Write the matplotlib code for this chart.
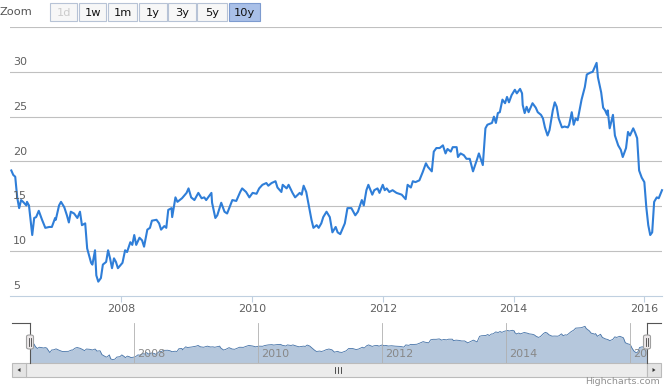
import matplotlib
matplotlib.use("Agg")
import matplotlib.pyplot as plt
from matplotlib.patches import Rectangle, FancyBboxPatch, Polygon
from matplotlib.lines import Line2D
from matplotlib.transforms import blended_transform_factory

# decimal year / price
years = [2006.32, 2006.35, 2006.38, 2006.41, 2006.44, 2006.47, 2006.50, 2006.55, 2006.56, 2006.59,
         2006.64, 2006.67, 2006.70, 2006.74, 2006.79, 2006.84, 2006.90, 2006.94, 2006.99, 2007.00,
         2007.05, 2007.08, 2007.13, 2007.17, 2007.20, 2007.23, 2007.28, 2007.33, 2007.37, 2007.40,
         2007.45, 2007.48, 2007.54, 2007.56, 2007.60, 2007.62, 2007.65, 2007.69, 2007.72, 2007.77,
         2007.80, 2007.83, 2007.86, 2007.89, 2007.92, 2007.95, 2008.02, 2008.06, 2008.09, 2008.14,
         2008.17, 2008.20, 2008.23, 2008.28, 2008.32, 2008.35, 2008.40, 2008.44, 2008.47, 2008.54,
         2008.58, 2008.61, 2008.66, 2008.69, 2008.72, 2008.77, 2008.78, 2008.83, 2008.86, 2008.93,
         2009.00, 2009.03, 2009.07, 2009.12, 2009.18, 2009.23, 2009.27, 2009.30, 2009.38, 2009.39,
         2009.44, 2009.47, 2009.53, 2009.58, 2009.62, 2009.70, 2009.76, 2009.82, 2009.85, 2009.91,
         2009.96, 2010.01, 2010.07, 2010.11, 2010.16, 2010.22, 2010.25, 2010.30, 2010.36, 2010.39,
         2010.45, 2010.47, 2010.53, 2010.56, 2010.62, 2010.66, 2010.73, 2010.76, 2010.79, 2010.83,
         2010.91, 2010.94, 2010.99, 2011.02, 2011.06, 2011.09, 2011.14, 2011.19, 2011.23, 2011.28,
         2011.31, 2011.35, 2011.42, 2011.46, 2011.52, 2011.58, 2011.62, 2011.68, 2011.71, 2011.75,
         2011.78, 2011.84, 2011.87, 2011.92, 2011.95, 2012.00, 2012.03, 2012.06, 2012.10, 2012.15,
         2012.21, 2012.29, 2012.35, 2012.38, 2012.43, 2012.46, 2012.50, 2012.56, 2012.61, 2012.66,
         2012.69, 2012.75, 2012.78, 2012.82, 2012.87, 2012.92, 2012.96, 2012.99, 2013.04, 2013.07,
         2013.13, 2013.15, 2013.19, 2013.24, 2013.28, 2013.33, 2013.38, 2013.44, 2013.47, 2013.53,
         2013.57, 2013.60, 2013.67, 2013.70, 2013.73, 2013.76, 2013.79, 2013.83, 2013.87, 2013.90,
         2013.93, 2013.97, 2014.02, 2014.05, 2014.10, 2014.13, 2014.14, 2014.17, 2014.20, 2014.23,
         2014.29, 2014.34, 2014.37, 2014.42, 2014.45, 2014.48, 2014.52, 2014.55, 2014.60, 2014.63,
         2014.66, 2014.69, 2014.74, 2014.78, 2014.83, 2014.85, 2014.89, 2014.92, 2014.95, 2014.98,
         2015.04, 2015.09, 2015.12, 2015.17, 2015.21, 2015.24, 2015.27, 2015.29, 2015.34, 2015.37,
         2015.40, 2015.43, 2015.44, 2015.47, 2015.52, 2015.55, 2015.60, 2015.64, 2015.67, 2015.72,
         2015.75, 2015.78, 2015.83, 2015.86, 2015.89, 2015.92, 2015.96, 2016.00, 2016.03, 2016.06,
         2016.09, 2016.12, 2016.15, 2016.19, 2016.22, 2016.27]

prices = [19.0, 18.5, 18.3, 16.0, 14.8, 15.7, 15.5, 15.1, 15.5, 15.1,
          11.8, 13.7, 13.8, 14.5, 13.5, 12.6, 12.7, 12.7, 13.7, 13.5,
          15.1, 15.5, 14.9, 14.0, 13.2, 14.4, 14.2, 13.7, 14.4, 12.9,
          13.1, 10.3, 8.7, 8.5, 10.1, 7.3, 6.6, 7.0, 8.5, 8.8,
          10.1, 9.2, 8.1, 9.2, 8.8, 8.1, 8.7, 10.1, 9.9, 11.0,
          10.7, 11.8, 10.7, 11.5, 11.2, 10.5, 12.4, 12.6, 13.4, 13.5,
          13.1, 12.4, 12.8, 12.6, 14.6, 14.8, 13.8, 16.0, 15.5, 15.9,
          16.5, 17.0, 16.0, 15.7, 16.5, 15.9, 16.0, 15.7, 16.5, 15.4,
          13.7, 14.0, 15.4, 14.4, 14.2, 15.7, 15.6, 16.6, 17.0, 16.6,
          16.0, 16.5, 16.4, 17.0, 17.4, 17.6, 17.3, 17.6, 17.8, 17.1,
          16.6, 17.4, 17.0, 17.4, 16.5, 16.0, 16.5, 16.3, 17.3, 16.6,
          13.5, 12.6, 12.9, 12.6, 13.1, 13.8, 14.4, 13.8, 12.1, 12.7,
          12.1, 11.9, 13.1, 14.8, 14.8, 14.0, 14.4, 15.7, 15.1, 16.8,
          17.4, 16.3, 16.8, 17.0, 16.5, 17.4, 16.8, 17.0, 16.6, 16.8,
          16.5, 16.3, 15.8, 17.4, 17.1, 17.8, 17.7, 17.9, 18.8, 19.8,
          19.4, 18.9, 21.1, 21.5, 21.5, 21.8, 20.9, 21.4, 21.1, 21.6,
          21.6, 20.5, 20.9, 20.7, 20.3, 20.3, 18.9, 20.2, 20.9, 19.6,
          23.7, 24.1, 24.3, 25.0, 24.3, 25.4, 25.5, 26.9, 26.5, 27.2,
          26.6, 27.4, 28.0, 27.6, 28.1, 27.6, 26.3, 25.4, 26.1, 25.5,
          26.5, 26.0, 25.5, 25.2, 24.8, 23.8, 22.9, 23.5, 25.7, 26.6,
          26.1, 24.8, 23.8, 23.9, 23.8, 24.1, 25.5, 24.1, 24.8, 24.6,
          26.9, 28.3, 29.7, 29.9, 30.0, 30.5, 31.0, 29.4, 27.7, 26.0,
          25.7, 25.2, 25.7, 23.7, 25.2, 22.9, 21.8, 21.3, 20.5, 21.5,
          23.3, 22.9, 23.7, 23.2, 22.6, 19.0, 18.2, 17.7, 14.9, 12.9,
          11.8, 12.1, 15.5, 16.0, 15.9, 16.8]

y_ticks = [5, 10, 15, 20, 25, 30, 35]
y_labels = ["5", "10", "15", "20", "25", "30"]
x_ticks = [2008, 2010, 2012, 2014, 2016]
zoom_buttons = ["1d", "1w", "1m", "1y", "3y", "5y", "10y"]

W, H = 664, 389
fig = plt.figure(figsize=(W / 100, H / 100), dpi=100)
plt.rcParams['font.family'] = ['DejaVu Sans']


def fx(px):
    return px / W


def fy(py):
    return 1 - py / H


def box(x0, y0, x1, y1):
    return [fx(x0), fy(y1), fx(x1) - fx(x0), fy(y0) - fy(y1)]


# ---- main chart
ax = fig.add_axes(box(10, 27, 662, 296))
ax.plot(years, prices, color='#2f7ed8', lw=1.5, solid_joinstyle='round', zorder=3, clip_on=False)
ax.set_xlim(years[0] - 0.02, years[-1])
ax.set_ylim(5, 35)
for v in y_ticks[1:]:
    ax.axhline(v, color='#c0c0c0', lw=0.8, zorder=1)
for s in ['top', 'left', 'right']:
    ax.spines[s].set_visible(False)
ax.spines['bottom'].set_color('#c0d0e0')
ax.spines['bottom'].set_linewidth(0.8)
ax.set_yticks([])
ax.set_xticks(x_ticks)
ax.set_xticklabels([str(t) for t in x_ticks])
ax.tick_params(axis='x', colors='#c0d0e0', length=4, width=0.8, pad=1.5, labelsize=8, labelcolor='#606060')
ytr = blended_transform_factory(ax.transAxes, ax.transData)
for v, lab in zip(y_ticks, y_labels):
    ax.text(3 / 652, v + 0.55, lab, transform=ytr, fontsize=8, color='#606060', ha='left', va='bottom')

# ---- zoom buttons
fig.text(fx(0), fy(12), "Zoom", fontsize=8.2, color='#555555', ha='left', va='center')
btn_x = [(50, 77), (79, 106), (108, 137), (139, 167), (168, 196), (197, 227), (229, 260)]
for (x0, x1), lab in zip(btn_x, zoom_buttons):
    sel = lab == "10y"
    fc = '#a9c0e8' if sel else '#f7f7f7'
    ec = '#7d9bcf' if sel else '#b7c3d6'
    fig.patches.append(Rectangle((fx(x0), fy(21)), fx(x1) - fx(x0), fy(3) - fy(21),
                                 transform=fig.transFigure, fc=fc, ec=ec, lw=0.8))
    tc = '#cccccc' if lab == "1d" else '#111111'
    fig.text(fx((x0 + x1) / 2), fy(12.5), lab, fontsize=8.2, color=tc, ha='center', va='center')

# ---- navigator
nav = fig.add_axes(box(30, 323, 647, 363))
span = max(prices) - min(prices)
nav_min = min(prices) - 0.1 * span
nav.fill_between(years, prices, nav_min, color='#b5c7dc', lw=0, zorder=2)
nav.plot(years, prices, color='#4572a7', lw=0.6, zorder=3)
nav.set_xlim(years[0], years[-1])
nav.set_ylim(nav_min, max(prices) + 0.1 * span)
nav.axis('off')
for t in x_ticks:
    nav.axvline(t, color='#b0b0b0', lw=0.6, zorder=4)
    nav.text(t + 0.05, 0.22, str(t), transform=blended_transform_factory(nav.transData, nav.transAxes),
             fontsize=8, color='#888888', ha='left', va='center', zorder=4, clip_on=True)

# outline and handles
outline = [((12, 323), (30, 323)), ((30, 323), (30, 363)), ((647, 323), (647, 363)), ((647, 323), (661, 323))]
for (xa, ya), (xb, yb) in outline:
    fig.lines.append(Line2D([fx(xa), fx(xb)], [fy(ya), fy(yb)], transform=fig.transFigure,
                            color='#555555', lw=0.8))
for hx in [30, 647]:
    fig.patches.append(FancyBboxPatch((fx(hx - 3.5), fy(349)), fx(7), fy(335) - fy(349),
                                      boxstyle="round,pad=0,rounding_size=0.004",
                                      transform=fig.transFigure, fc='#ebe7e8', ec='#a0a0a0', lw=0.8, zorder=5))
    for gx in [hx - 1, hx + 1]:
        fig.lines.append(Line2D([fx(gx), fx(gx)], [fy(338), fy(346)], transform=fig.transFigure,
                                color='#444444', lw=0.6, zorder=6))

# ---- scrollbar
fig.patches.append(Rectangle((fx(26), fy(377)), fx(621), fy(363) - fy(377), transform=fig.transFigure,
                             fc='#ececec', ec='#bbbbbb', lw=0.8))
for x0, x1, d in [(12, 26, -1), (647, 661, 1)]:
    fig.patches.append(Rectangle((fx(x0), fy(377)), fx(x1 - x0), fy(363) - fy(377), transform=fig.transFigure,
                                 fc='#e4e4e4', ec='#bbbbbb', lw=0.8))
    cx = (x0 + x1) / 2
    tri = [(fx(cx + 1.5 * d), fy(370)), (fx(cx - 1.5 * d), fy(368)), (fx(cx - 1.5 * d), fy(372))]
    fig.patches.append(Polygon(tri, closed=True, transform=fig.transFigure, fc='#333333', ec='none'))
for gx in [335, 338, 341]:
    fig.lines.append(Line2D([fx(gx), fx(gx)], [fy(367), fy(373)], transform=fig.transFigure,
                            color='#333333', lw=0.6))

fig.text(fx(660), fy(382), "Highcharts.com", fontsize=6.8, color='#909090', ha='right', va='center')

fig.savefig("out.png", dpi=100)
